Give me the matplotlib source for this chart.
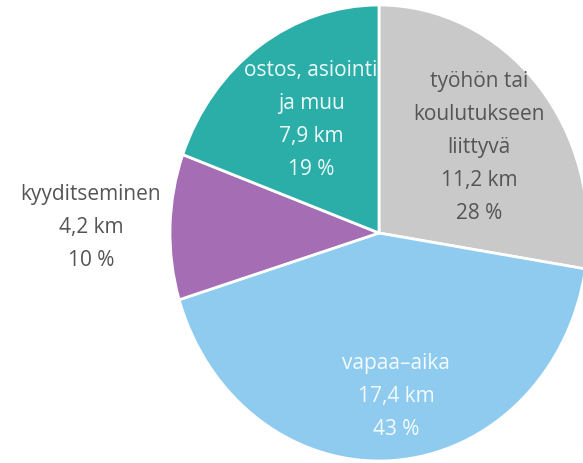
import matplotlib
matplotlib.use("Agg")
import matplotlib.pyplot as plt

# trip purposes, km per day
categories = ["työhön tai\nkoulutukseen\nliittyvä", "vapaa\u2013aika", "kyyditseminen", "ostos, asiointi\nja muu"]
km_values = [11.2, 17.4, 4.2, 7.9]
km_labels = ["11,2 km", "17,4 km", "4,2 km", "7,9 km"]
pct_labels = ["28 %", "43 %", "10 %", "19 %"]

colors = ["#c9c9c9", "#8ecbef", "#a56db4", "#2badA8"]
text_colors = ["#555555", "#f4fbfe", "#555555", "#eefaf9"]
# label centres in data units (pie radius = 1)
label_pos = [(0.478, 0.373), (0.081, -0.719), (-1.378, 0.022), (-0.325, 0.496)]

fig = plt.figure(figsize=(5.83, 4.63), dpi=100)
ax = fig.add_axes([0, 0, 1, 1])

ax.pie(km_values, colors=colors, startangle=90, counterclock=False, radius=1,
       wedgeprops=dict(edgecolor="white", linewidth=2))

# the original pie is slightly taller than wide and cut off at the right
ax.set_aspect("auto")
ax.set_xlim(-379/209, (583-379)/209)
ax.set_ylim(-230/228, (463-230)/228)
ax.axis("off")

for cat, km, pct, (x, y), tc in zip(categories, km_labels, pct_labels, label_pos, text_colors):
    ax.text(x, y, cat + "\n" + km + "\n" + pct, ha="center", va="center",
            color=tc, fontsize=15, family="Open Sans", linespacing=1.75)

fig.savefig("out.png", dpi=100)
